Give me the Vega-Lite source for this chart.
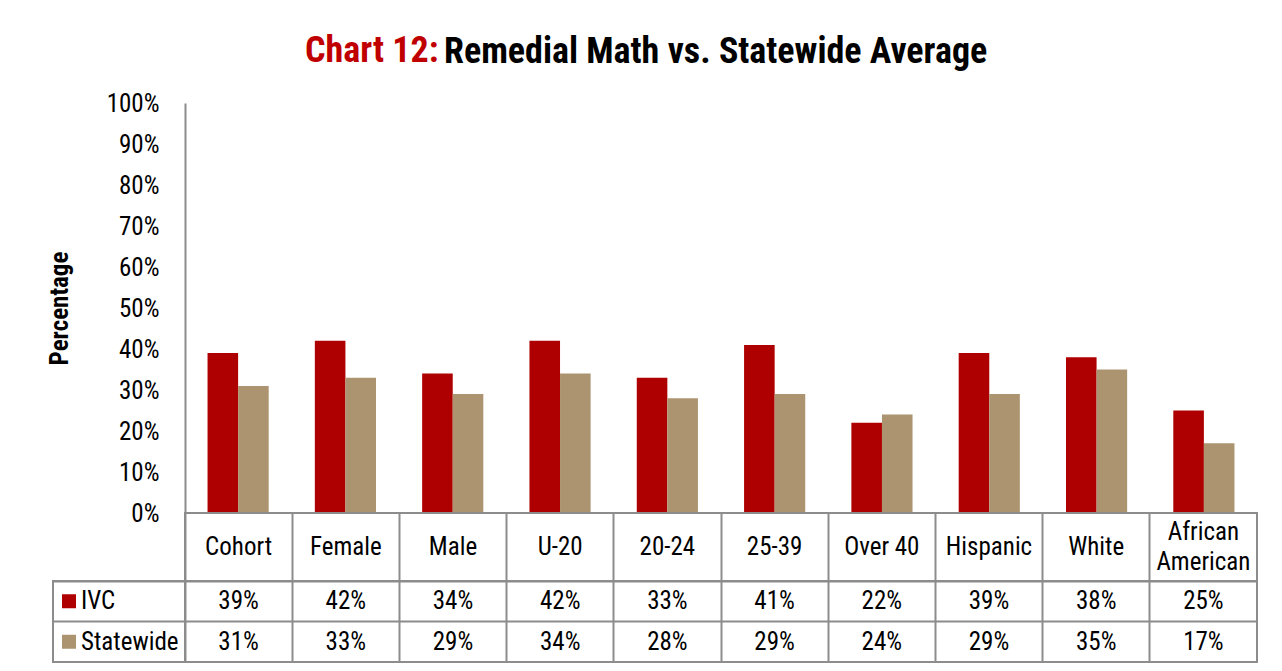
{
  "$schema": "https://vega.github.io/schema/vega-lite/v6.json",
  "background": "white",
  "padding": {"left": 47, "top": 33, "right": 5, "bottom": 5},
  "datasets": {
    "rows": [
      {"category": "Cohort", "series": "IVC", "value": 0.39},
      {"category": "Cohort", "series": "Statewide", "value": 0.31},
      {"category": "Female", "series": "IVC", "value": 0.42},
      {"category": "Female", "series": "Statewide", "value": 0.33},
      {"category": "Male", "series": "IVC", "value": 0.34},
      {"category": "Male", "series": "Statewide", "value": 0.29},
      {"category": "U-20", "series": "IVC", "value": 0.42},
      {"category": "U-20", "series": "Statewide", "value": 0.34},
      {"category": "20-24", "series": "IVC", "value": 0.33},
      {"category": "20-24", "series": "Statewide", "value": 0.28},
      {"category": "25-39", "series": "IVC", "value": 0.41},
      {"category": "25-39", "series": "Statewide", "value": 0.29},
      {"category": "Over 40", "series": "IVC", "value": 0.22},
      {"category": "Over 40", "series": "Statewide", "value": 0.24},
      {"category": "Hispanic", "series": "IVC", "value": 0.39},
      {"category": "Hispanic", "series": "Statewide", "value": 0.29},
      {"category": "White", "series": "IVC", "value": 0.38},
      {"category": "White", "series": "Statewide", "value": 0.35},
      {"category": "African American", "series": "IVC", "value": 0.25},
      {"category": "African American", "series": "Statewide", "value": 0.17}
    ],
    "cats": [
      {"category": "Cohort"}, {"category": "Female"}, {"category": "Male"}, {"category": "U-20"}, {"category": "20-24"},
      {"category": "25-39"}, {"category": "Over 40"}, {"category": "Hispanic"}, {"category": "White"}, {"category": "African American"}
    ],
    "series": [{"series": "IVC"}, {"series": "Statewide"}]
  },
  "columns": 2,
  "align": "each",
  "bounds": "flush",
  "spacing": 0,
  "resolve": {"scale": {"x": "independent", "y": "independent"}},
  "concat": [
    {
      "width": 132, "height": 410,
      "title": {"text": "Chart 12:", "color": "#C00000", "anchor": "start", "frame": "group", "dx": 252, "offset": 33},
      "data": {"values": []},
      "mark": "text",
      "encoding": {}
    },
    {
      "width": 1072, "height": 410,
      "title": {"text": "Remedial Math vs. Statewide Average", "color": "black", "anchor": "start", "frame": "group", "dx": 259, "offset": 20},
      "data": {"name": "rows"},
      "mark": {"type": "bar"},
      "encoding": {
        "x": {"field": "category", "type": "nominal", "scale": {"domain": ["Cohort", "Female", "Male", "U-20", "20-24", "25-39", "Over 40", "Hispanic", "White", "African American"], "paddingInner": 0.43, "paddingOuter": 0.21}, "axis": null},
        "xOffset": {"field": "series", "type": "nominal", "scale": {"domain": ["IVC", "Statewide"]}},
        "y": {"field": "value", "type": "quantitative", "scale": {"domain": [0, 1], "nice": false},
          "axis": {"values": [0, 0.1, 0.2, 0.3, 0.4, 0.5, 0.6, 0.7, 0.8, 0.9, 1], "format": ".0%", "title": "Percentage", "grid": false, "ticks": false, "domainColor": "#8C8C8C", "domainWidth": 2, "labelFontSize": 25, "labelColor": "black", "labelPadding": 26, "titleFontSize": 25, "titleFontWeight": "bold", "titleColor": "black", "titlePadding": 34}},
        "color": {"field": "series", "type": "nominal", "scale": {"domain": ["IVC", "Statewide"], "range": ["#AE0000", "#AC9470"]}, "legend": null}
      }
    },
    {
      "width": 132, "height": 68,
      "data": {"values": []},
      "mark": "text",
      "encoding": {}
    },
    {
      "width": 1072, "height": 68,
      "view": {"stroke": "#8C8C8C", "strokeWidth": 2},
      "data": {"name": "cats"},
      "transform": [{"calculate": "datum.category == 'African American' ? ['African', 'American'] : datum.category", "as": "label"}],
      "mark": {"type": "text", "fontSize": 25, "color": "black", "lineHeight": 30, "dy": {"expr": "isArray(datum.label) ? -15 : 0"}},
      "encoding": {
        "x": {"field": "category", "type": "nominal", "scale": {"type": "band", "domain": ["Cohort", "Female", "Male", "U-20", "20-24", "25-39", "Over 40", "Hispanic", "White", "African American"], "paddingInner": 0, "paddingOuter": 0},
          "axis": {"grid": true, "gridColor": "#8C8C8C", "gridWidth": 2, "bandPosition": 0, "labels": false, "ticks": false, "domain": false, "title": null}},
        "text": {"field": "label"}
      }
    },
    {
      "width": 132, "height": 81,
      "view": {"stroke": "#8C8C8C", "strokeWidth": 2},
      "data": {"name": "series"},
      "encoding": {
        "y": {"field": "series", "type": "nominal", "scale": {"type": "band", "domain": ["IVC", "Statewide"], "paddingInner": 0, "paddingOuter": 0},
          "axis": {"grid": true, "gridColor": "#8C8C8C", "gridWidth": 2, "bandPosition": 0, "labels": false, "ticks": false, "domain": false, "title": null}}
      },
      "layer": [
        {
          "mark": {"type": "square", "size": 196, "opacity": 1},
          "encoding": {
            "x": {"datum": 16, "type": "quantitative", "scale": {"domain": [0, 132], "nice": false, "zero": false}, "axis": null},
            "color": {"field": "series", "type": "nominal", "scale": {"domain": ["IVC", "Statewide"], "range": ["#AE0000", "#AC9470"]}, "legend": null}
          }
        },
        {
          "mark": {"type": "text", "align": "left", "fontSize": 25, "color": "black"},
          "encoding": {
            "x": {"datum": 28, "type": "quantitative"},
            "text": {"field": "series"}
          }
        }
      ]
    },
    {
      "width": 1072, "height": 81,
      "view": {"stroke": "#8C8C8C", "strokeWidth": 2},
      "data": {"name": "rows"},
      "mark": {"type": "text", "fontSize": 25, "color": "black"},
      "encoding": {
        "x": {"field": "category", "type": "nominal", "scale": {"type": "band", "domain": ["Cohort", "Female", "Male", "U-20", "20-24", "25-39", "Over 40", "Hispanic", "White", "African American"], "paddingInner": 0, "paddingOuter": 0},
          "axis": {"grid": true, "gridColor": "#8C8C8C", "gridWidth": 2, "bandPosition": 0, "labels": false, "ticks": false, "domain": false, "title": null}},
        "y": {"field": "series", "type": "nominal", "scale": {"type": "band", "domain": ["IVC", "Statewide"], "paddingInner": 0, "paddingOuter": 0},
          "axis": {"grid": true, "gridColor": "#8C8C8C", "gridWidth": 2, "bandPosition": 0, "labels": false, "ticks": false, "domain": false, "title": null}},
        "text": {"field": "value", "type": "quantitative", "format": ".0%"}
      }
    }
  ],
  "config": {
    "font": "Liberation Sans Narrow, Arial Narrow, Roboto Condensed, Liberation Sans, sans-serif",
    "view": {"stroke": null},
    "title": {"fontSize": 36, "fontWeight": "bold", "baseline": "alphabetic", "font": "Liberation Sans Narrow, Arial Narrow, Roboto Condensed, Liberation Sans, sans-serif"},
    "axis": {"labelFont": "Liberation Sans Narrow, Arial Narrow, Roboto Condensed, Liberation Sans, sans-serif", "titleFont": "Liberation Sans Narrow, Arial Narrow, Roboto Condensed, Liberation Sans, sans-serif"}
  }
}
